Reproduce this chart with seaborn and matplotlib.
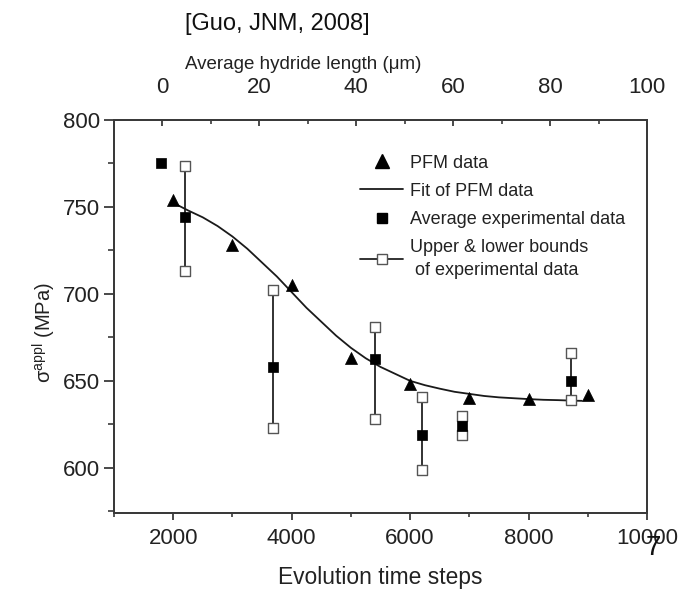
import matplotlib
matplotlib.use("Agg")
import matplotlib.pyplot as plt
from matplotlib.lines import Line2D
from matplotlib.ticker import MultipleLocator
import seaborn as sns

# ---------------- data ----------------
pfm_steps = [2000, 3000, 4000, 5000, 6000, 7000, 8000, 9000]
pfm_sigma = [754, 728, 705, 663, 648, 640, 639.5, 642]

fit_steps = [2050, 2250, 2500, 2750, 3000, 3250, 3500, 3750, 4000, 4250,
             4500, 4750, 5000, 5250, 5500, 5750, 6000, 6250, 6500, 6750,
             7000, 7250, 7500, 7750, 8000, 8250, 8500, 8750, 8900]
fit_sigma = [751.5, 748, 744, 739, 733, 726, 718, 710, 701, 692,
             684, 676, 669, 663, 658, 654, 650, 647.5, 645.5, 643.7,
             642.5, 641.3, 640.5, 640, 639.5, 639.1, 638.9, 638.6, 638.5]

exp_steps = [1800, 2200, 3680, 5400, 6200, 6880, 8720]
exp_avg = [775, 744, 658, 662.5, 619, 624, 650]

bound_steps = [2200, 3680, 5400, 6200, 6880, 8720]
bound_upper = [773.5, 702, 681, 640.5, 629.5, 666]
bound_lower = [713, 623, 628, 599, 619, 639]

legend_labels = ["PFM data", "Fit of PFM data", "Average experimental data",
                 "Upper & lower bounds\n of experimental data"]

# ---------------- style ----------------
sns.set_theme(style="ticks")
plt.rcParams["font.family"] = ["Liberation Sans", "DejaVu Sans"]
plt.rcParams["mathtext.fontset"] = "custom"
plt.rcParams["mathtext.rm"] = "Liberation Sans"
plt.rcParams["mathtext.it"] = "Liberation Sans:italic"

spine_col = "#3a3a3a"
txt_col = "#222222"

fig = plt.figure(figsize=(6.79, 5.91), dpi=100)
fig.patch.set_facecolor("white")
ax = fig.add_axes([114 / 679, 1 - 513 / 591, 533 / 679, 393 / 591])
ax.set_facecolor("white")

# error bars
ax.vlines(bound_steps, bound_lower, bound_upper, colors="#222222",
          linewidth=1.3, zorder=1)

# bounds (open squares)
sns.scatterplot(x=bound_steps + bound_steps, y=bound_upper + bound_lower,
                marker="s", s=60, facecolor="white", edgecolor="#555555",
                linewidth=1.0, ax=ax, zorder=3)
# average experimental (filled squares)
sns.scatterplot(x=exp_steps, y=exp_avg, marker="s", s=54, color="black",
                edgecolor="black", linewidth=0.5, ax=ax, zorder=4)
# fit curve
sns.lineplot(x=fit_steps, y=fit_sigma, color="#1a1a1a", linewidth=1.3,
             ax=ax, zorder=2, sort=False)
# PFM data (triangles)
sns.scatterplot(x=pfm_steps, y=pfm_sigma, marker="^", s=75, color="black",
                edgecolor="black", linewidth=0.5, ax=ax, zorder=5)

ax.set_xlim(1000, 10000)
ax.set_ylim(574, 800)
ax.xaxis.set_major_locator(MultipleLocator(2000))
ax.xaxis.set_minor_locator(MultipleLocator(1000))
ax.yaxis.set_major_locator(MultipleLocator(50))
ax.yaxis.set_minor_locator(MultipleLocator(25))

for s in ax.spines.values():
    s.set_color(spine_col)
    s.set_linewidth(1.4)

ax.tick_params(axis="x", which="major", direction="out", length=5, width=1.3,
               color=spine_col, labelsize=16, pad=6, labelcolor=txt_col,
               top=False)
ax.tick_params(axis="x", which="minor", direction="out", length=3, width=1.2,
               color=spine_col, top=False)
ax.tick_params(axis="y", which="major", direction="out", length=7, width=1.3,
               color=spine_col, labelsize=16, pad=3, labelcolor=txt_col,
               right=False)
ax.tick_params(axis="y", which="minor", direction="out", length=4, width=1.2,
               color=spine_col, right=False)

ax.set_xlabel("Evolution time steps", fontsize=16.4, color=txt_col)
ax.xaxis.set_label_coords(0.499, -0.135)
ax.set_ylabel("σ$^{\\mathrm{appl}}$ (MPa)", fontsize=14.5, color=txt_col)
ax.yaxis.set_label_coords(-0.106, 0.458)

# top axis
ax2 = ax.twiny()
ax2.set_xlim(-10, 100)
ax2.xaxis.set_major_locator(MultipleLocator(20))
ax2.xaxis.set_minor_locator(MultipleLocator(10))
ax2.tick_params(axis="x", which="major", direction="in", length=4.5,
                width=1.3, color=spine_col, labelsize=16, pad=16,
                labelcolor=txt_col)
ax2.tick_params(axis="x", which="minor", direction="in", length=3,
                width=1.2, color=spine_col)
for s in ax2.spines.values():
    s.set_color(spine_col)
    s.set_linewidth(1.4)
ax2.set_xlabel("Average hydride length (μm)", fontsize=13.5, color=txt_col)
ax2.xaxis.set_label_coords(0.3555, 1.131)

# legend
handles = [
    Line2D([], [], ls="none", marker="^", ms=9.5, color="black"),
    Line2D([], [], ls="-", color="#1a1a1a", lw=1.3),
    Line2D([], [], ls="none", marker="s", ms=6.5, color="black"),
    Line2D([], [], ls="-", color="#222222", lw=1.3, marker="s", ms=7.5,
           mfc="white", mec="#555555", mew=1.0),
]
leg = ax.legend(handles, legend_labels, loc="upper left",
                bbox_to_anchor=(0.4615, 0.912), frameon=False, fontsize=13,
                borderpad=0, borderaxespad=0, handlelength=2.4,
                handletextpad=0.35, labelspacing=0.62)
for t in leg.get_texts():
    t.set_color(txt_col)
    t.set_linespacing(1.45)

fig.text(277 / 679, 1 - 24 / 591, "[Guo, JNM, 2008]", fontsize=17,
         ha="center", va="center", color="#111111")
fig.text(653 / 679, 1 - 548 / 591, "7", fontsize=20, ha="center",
         va="center", color="#111111")

fig.savefig("out.png", dpi=100, facecolor="white")
